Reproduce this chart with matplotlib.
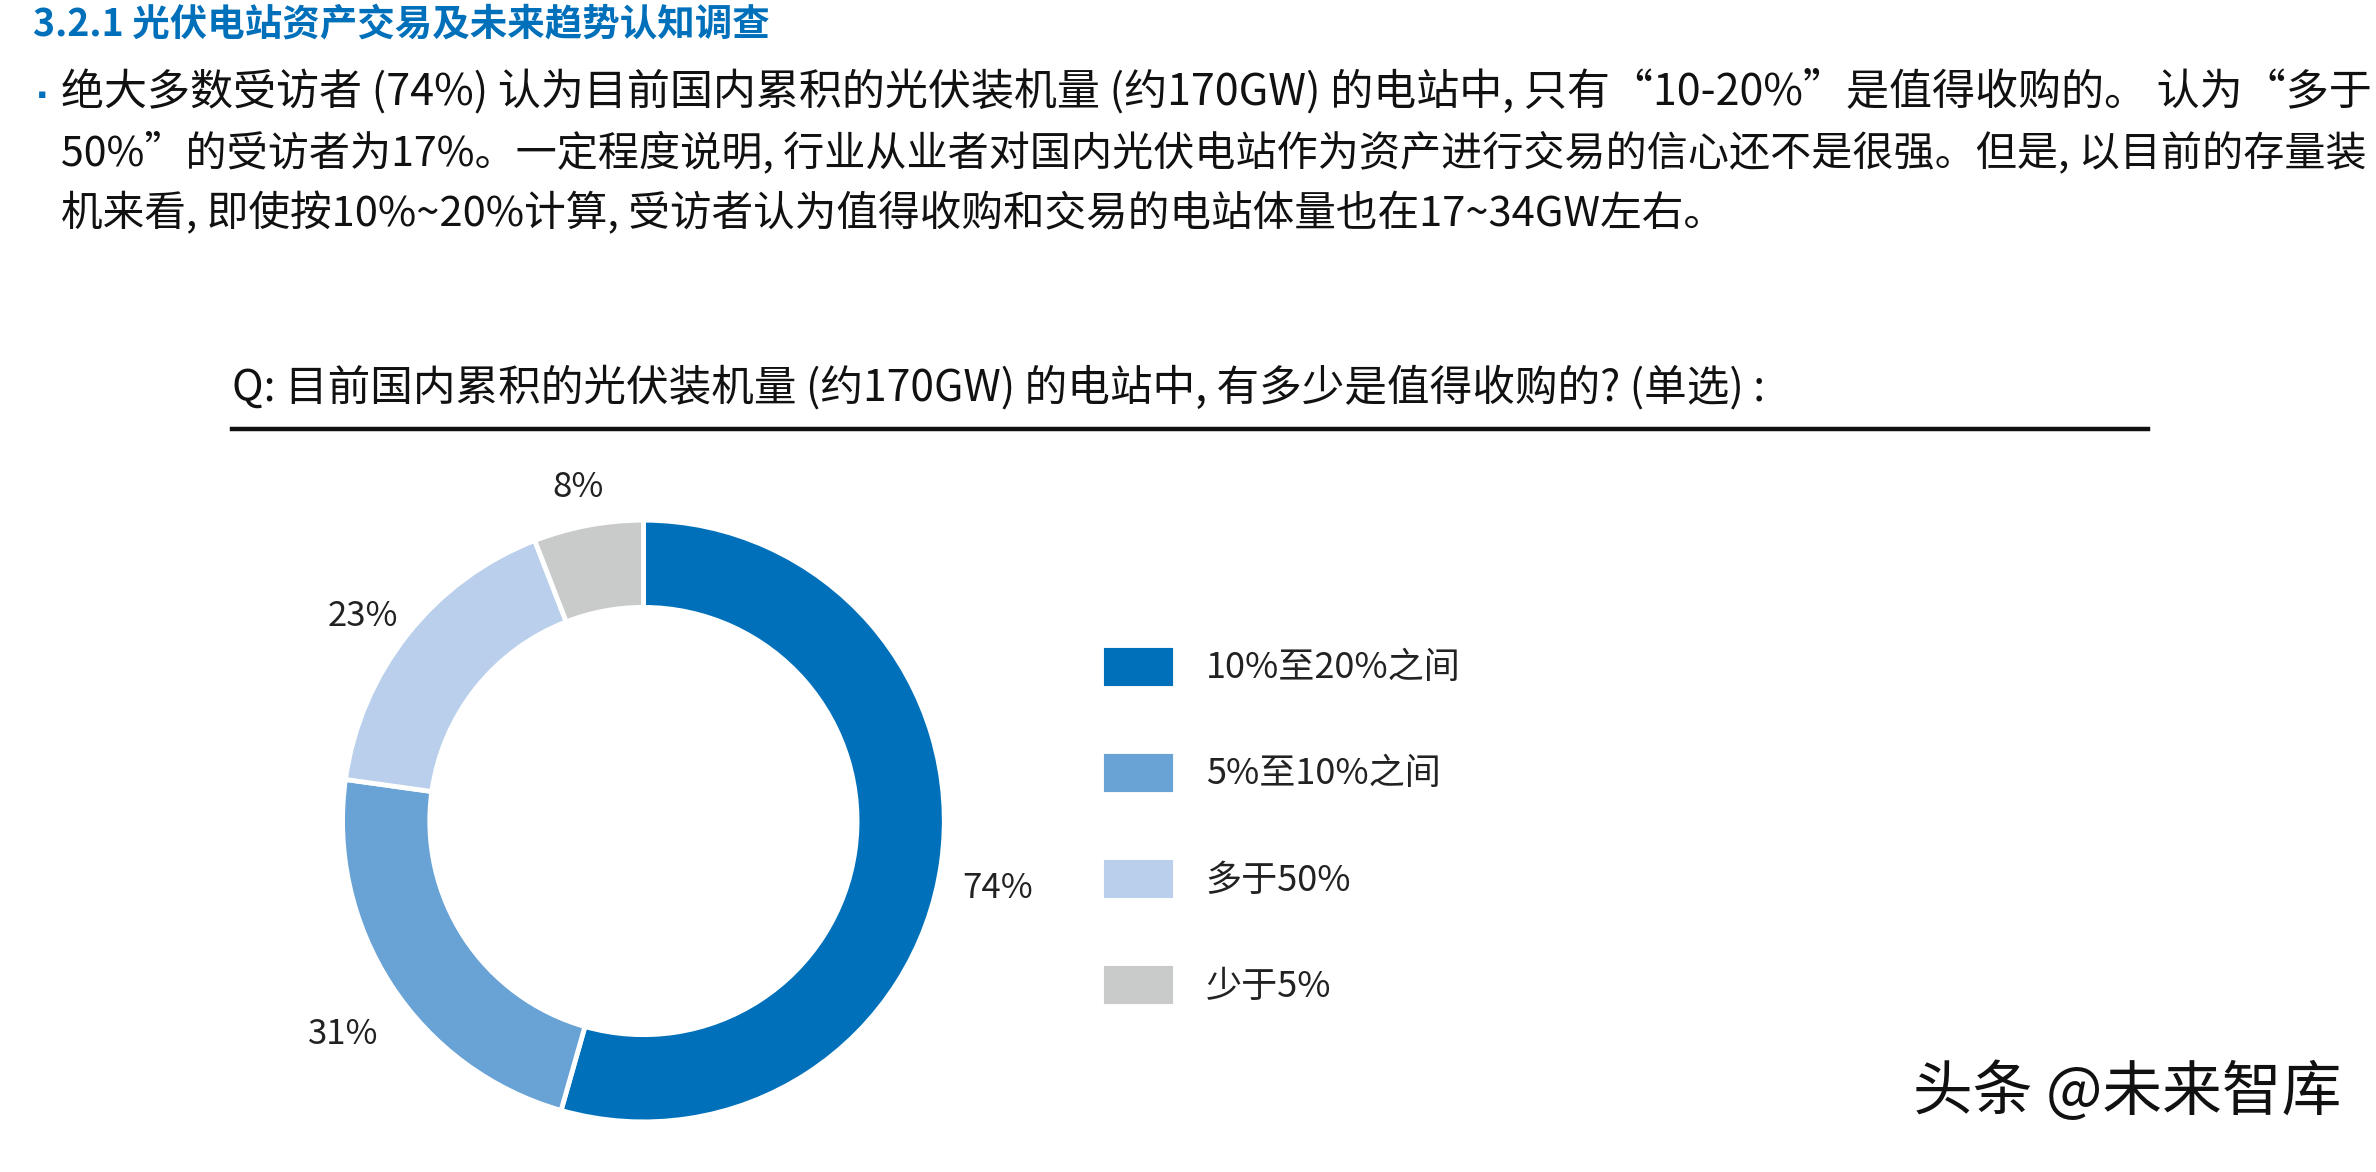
import matplotlib
matplotlib.use("Agg")
import matplotlib.pyplot as plt

plt.rcParams['font.family'] = ['Noto Sans CJK SC', 'DejaVu Sans']

# chart data
categories = ["10%至20%之间", "5%至10%之间", "多于50%", "少于5%"]
values = [74, 31, 23, 8]
colors = ["#0070BA", "#69A2D5", "#B9CFEB", "#C9CACA"]
value_labels = [f"{v}%" for v in values]

header = "3.2.1 光伏电站资产交易及未来趋势认知调查"
body_lines = [
    "绝大多数受访者 (74%) 认为目前国内累积的光伏装机量 (约170GW) 的电站中, 只有“10-20%”是值得收购的。 认为“多于",
    "50%”的受访者为17%。一定程度说明, 行业从业者对国内光伏电站作为资产进行交易的信心还不是很强。但是, 以目前的存量装",
    "机来看, 即使按10%~20%计算, 受访者认为值得收购和交易的电站体量也在17~34GW左右。",
]
# lines 1-2 are justified in the original, so sizes differ slightly
body_sizes = [31, 29.6, 30]
question = "Q: 目前国内累积的光伏装机量 (约170GW) 的电站中, 有多少是值得收购的? (单选) :"
watermark = "头条 @未来智库"

W, H = 2376, 1172
fig = plt.figure(figsize=(W / 100, H / 100), dpi=100)

# header + paragraph
fig.text(33 / W, 1 - 24 / H, header, fontsize=27, fontweight='bold',
         color="#0070BA", va='center', ha='left')
fig.text(38 / W, 1 - 94 / H, "▪", fontsize=9, color="#0070BA",
         va='center', ha='left', family='DejaVu Sans')
for i, line in enumerate(body_lines):
    fig.text(61 / W, 1 - (92 + 61 * i) / H, line, fontsize=body_sizes[i],
             color="#111111", va='center', ha='left')

# question title and rule
fig.text(232 / W, 1 - 388 / H, question, fontsize=30.7, color="#111111",
         va='center', ha='left')
fig.add_artist(plt.Line2D([232 / W, 2148 / W], [1 - 429 / H, 1 - 429 / H],
                          color="#111111", linewidth=3.2))

# donut
ax = fig.add_axes([0.0934, 0.0299, 0.3548, 0.6033])
wedges, texts = ax.pie(values, colors=colors, startangle=90,
                       counterclock=False, radius=1.0,
                       labels=value_labels, labeldistance=1.19,
                       wedgeprops=dict(width=0.29, edgecolor='white', linewidth=3.5),
                       textprops=dict(fontsize=25, color="#222222"))
for t in texts:
    t.set_ha('center')
    t.set_va('center')
    x, y = t.get_position()
    t.set_position((x, y - 0.06))
ax.set_xlim(-1.4, 1.4)
ax.set_ylim(-1.05, 1.3)
ax.set_aspect('equal')
ax.axis('off')

# legend
leg = fig.legend(wedges, categories, loc='upper left',
                 bbox_to_anchor=(1101 / W, 1 - 645 / H), frameon=False,
                 fontsize=26, handlelength=2.05, handleheight=1.45,
                 handletextpad=0.85, labelspacing=1.75, borderpad=0,
                 borderaxespad=0)
for txt in leg.get_texts():
    txt.set_color("#222222")

fig.text(2341 / W, 1 - 1094 / H, watermark, fontsize=43, color="#111111",
         va='center', ha='right')

fig.savefig("out.png", dpi=100)
